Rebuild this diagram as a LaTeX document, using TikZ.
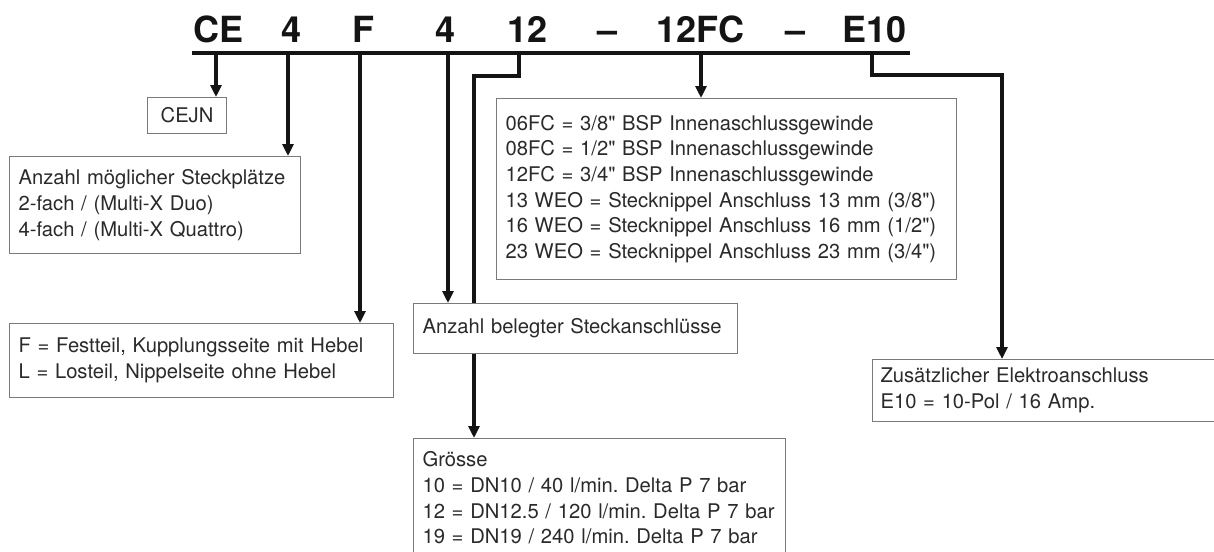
\documentclass[tikz,border=0pt]{standalone}
\usepackage{fontspec}
\setmainfont{TeX Gyre Heros}[Ligatures=TeXOff]
\usetikzlibrary{arrows.meta}
\definecolor{txt}{HTML}{2A2A2A}
\definecolor{frame}{HTML}{7A7A7A}
\tikzset{
  codechar/.style={anchor=base west, inner sep=0pt, font=\fontsize{36}{40}\selectfont\bfseries, text=black!92},
  infobox/.style={draw=frame, line width=1.1pt, fill=white, anchor=north west, inner ysep=0pt, inner xsep=9pt,
     align=left, text=txt, font=\fontsize{20.2}{25.7}\selectfont\frenchspacing},
  conn/.style={line width=3.1pt, black!92},
  arr/.style={conn, -{Triangle[width=11pt,length=12pt]}},
}
\begin{document}
\begin{tikzpicture}[x=1pt,y=-1pt]
\clip (0,0) rectangle (1214,551);
\fill[white] (0,0) rectangle (1214,551);
% code letters
\node[codechar] (cCE) at (193,43) {CE};
\node[codechar] (c4a) at (281,43) {4};
\node[codechar] (cF) at (352,43) {F};
\node[codechar] (c4b) at (435,43) {4};
\node[codechar] (c12) at (507,43) {12};
\node[codechar] (cd1) at (597,43) {–};
\node[codechar] (cFC) at (656,43) {12FC};
\node[codechar] (cd2) at (785,43) {–};
\node[codechar] (cE) at (842,43) {E10};
% boxes
\node[infobox, align=center, inner xsep=0pt, minimum width=79, minimum height=36] (cejn) at (147,97) {CEJN};
\node[infobox, minimum width=291, minimum height=97, text width=273] (moegl) at (9,156)
  {Anzahl möglicher Steckplätze\\2-fach / (Multi-X Duo)\\4-fach / (Multi-X Quattro)};
\node[infobox, minimum width=384, minimum height=74, text width=366] (fbox) at (9,323)
  {F = Festteil, Kupplungsseite mit Hebel\\L = Losteil, Nippelseite ohne Hebel};
\node[infobox, minimum width=324, minimum height=50, text width=306] (belegt) at (413,303)
  {Anzahl belegter Steckanschlüsse};
\node[infobox, minimum width=372, minimum height=119, text width=354] (groesse) at (413,438)
  {Grösse\\10 = DN10 / 40 l/min. Delta P 7 bar\\12 = DN12.5 / 120 l/min. Delta P 7 bar\\19 = DN19 / 240 l/min. Delta P 7 bar};
\node[infobox, minimum width=460, minimum height=181, text width=442] (fc) at (496,98)
  {06FC = 3/8" BSP Innenaschlussgewinde\\08FC = 1/2" BSP Innenaschlussgewinde\\12FC = 3/4" BSP Innenaschlussgewinde\\13 WEO = Stecknippel Anschluss 13 mm (3/8")\\16 WEO = Stecknippel Anschluss 16 mm (1/2")\\23 WEO = Stecknippel Anschluss 23 mm (3/4")};
\node[infobox, inner xsep=8pt, minimum width=360, minimum height=62, text width=344] (zus) at (872,359)
  {Zusätzlicher Elektroanschluss\\E10 = 10-Pol / 16 Amp.};
% main line
\coordinate (lL) at (192,53);
\coordinate (lR) at (910,53);
\draw[conn] (lL) -- (lR);
\coordinate (pCE) at (216,53);
\coordinate (p4a) at (288,53);
\coordinate (pF) at (360,53);
\coordinate (p4b) at (448,53);
\coordinate (p12) at (519,53);
\coordinate (j12) at (519,76);
\coordinate (k12) at (474,76);
\coordinate (pFC) at (701,53);
\coordinate (pE) at (872,53);
\coordinate (jE) at (872,75);
\coordinate (kE) at (1002,75);
\draw[arr] (pCE) -- (pCE |- cejn.north);
\draw[arr] (p4a) -- (p4a |- moegl.north);
\draw[arr] (pF) -- (pF |- fbox.north);
\draw[arr] (p4b) -- (p4b |- belegt.north);
\draw[conn] (p12) -- (j12) -- (k12) -- (k12 |- belegt.north);
\draw[arr] (k12 |- belegt.south) -- (k12 |- groesse.north);
\draw[arr] (pFC) -- (pFC |- fc.north);
\draw[arr] (pE) -- (jE) -- (kE) -- (kE |- zus.north);
\end{tikzpicture}
\end{document}
